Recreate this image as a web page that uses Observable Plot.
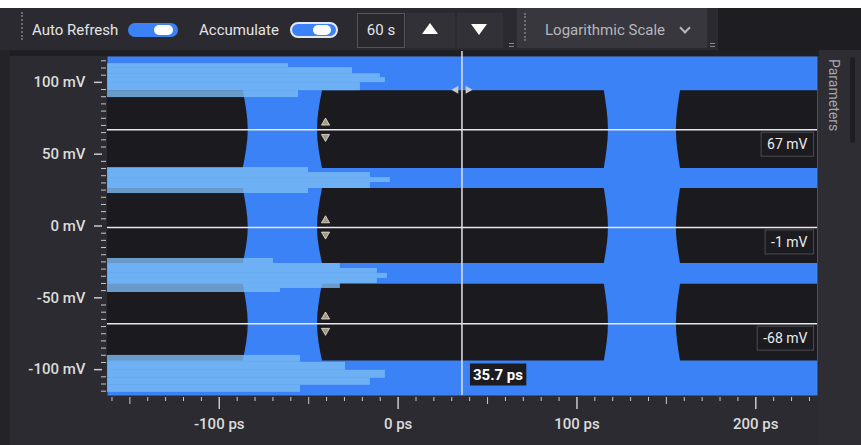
<!DOCTYPE html>
<html>
<head>
<meta charset="utf-8">
<script src="https://cdn.jsdelivr.net/npm/d3@7"></script>
<script src="https://cdn.jsdelivr.net/npm/@observablehq/plot@0.6"></script>
<style>
html, body { margin: 0; padding: 0; background: #2c2b31; }
#root { position: relative; width: 861px; height: 445px; overflow: hidden; background: #2c2b31; font-family: Roboto, "Noto Sans", sans-serif; }
.abs { position: absolute; }
.tb-text { position: absolute; color: #e4e4e8; font-size: 15px; line-height: 20px; white-space: nowrap; }
#chart { position: absolute; left: 0; top: 50px; }
</style>
</head>
<body>
<div id="root">
  <div class="abs" style="left:0;top:0;width:861px;height:8px;background:#ffffff"></div>
  <div class="abs" style="left:0;top:8px;width:861px;height:42px;background:#2b2a30"></div>
  <div class="abs" style="left:0;top:50px;width:861px;height:6px;background:#1f1e23"></div>
  <div class="abs" style="left:0;top:50px;width:10px;height:395px;background:#242328"></div>
  <div class="abs" style="left:21px;top:12px;height:28px;border-left:2px dotted #6a6970"></div>
  <div class="tb-text" style="left:32px;top:20px;">Auto Refresh</div>
  <div class="abs" style="left:128px;top:23px;width:50px;height:14px;border-radius:7px;background:#3b82f6"></div>
  <div class="abs" style="left:154px;top:25px;width:19px;height:10px;border-radius:5px;background:#ffffff"></div>
  <div class="tb-text" style="left:199px;top:20px;">Accumulate</div>
  <div class="abs" style="left:290px;top:22px;width:48px;height:16px;border-radius:8px;background:#3b82f6;border:2px solid #e6e8f0;box-sizing:border-box"></div>
  <div class="abs" style="left:313px;top:25px;width:18px;height:10px;border-radius:5px;background:#ffffff"></div>
  <div class="abs" style="left:357px;top:13px;width:48px;height:35px;box-sizing:border-box;border:1px solid #55545b;background:#29282d"></div>
  <div class="tb-text" style="left:357px;top:20px;width:48px;text-align:center;">60 s</div>
  <div class="abs" style="left:406px;top:13px;width:49px;height:35px;background:#323137"></div>
  <div class="abs" style="left:422px;top:23px;width:0;height:0;border-left:8px solid transparent;border-right:8px solid transparent;border-bottom:11px solid #ffffff"></div>
  <div class="abs" style="left:457px;top:13px;width:46px;height:35px;background:#323137"></div>
  <div class="abs" style="left:471px;top:24px;width:0;height:0;border-left:8px solid transparent;border-right:8px solid transparent;border-top:11px solid #ffffff"></div>
  <div class="abs" style="left:509px;top:43px;width:5px;height:1px;background:#8a8990"></div>
  <div class="abs" style="left:509px;top:46px;width:5px;height:1px;background:#8a8990"></div>
  <div class="abs" style="left:517px;top:8px;width:190px;height:40px;background:#38373d"></div>
  <div class="abs" style="left:524px;top:13px;height:28px;border-left:2px dotted #6e6d74"></div>
  <div class="tb-text" style="left:545px;top:20px;color:#b6b6be;">Logarithmic Scale</div>
  <div class="abs" style="left:681px;top:24px;width:6px;height:6px;border-right:2px solid #b6b6be;border-bottom:2px solid #b6b6be;transform:rotate(45deg)"></div>
  <div class="abs" style="left:710px;top:43px;width:5px;height:1px;background:#8a8990"></div>
  <div class="abs" style="left:710px;top:46px;width:5px;height:1px;background:#8a8990"></div>
  <div class="abs" style="left:718px;top:8px;width:143px;height:42px;background:#1e1d22"></div>
  <div id="chart"></div>
  <div class="abs" style="left:819px;top:50px;width:42px;height:395px;background:#2e2d33"></div>
  <div class="abs" style="left:824px;top:59px;writing-mode:vertical-rl;color:#a6a6ae;font-size:14px;line-height:20px;">Parameters</div>
  <div class="abs" style="left:850px;top:57px;width:5px;height:86px;border-radius:2px;background:#1f1e23"></div>
</div>
<script>
// ---- axes ----
const xDomain = [-162.5, 234.5];   // ps
const yDomain = [-118, 118];       // mV
const xMajor = [-100, 0, 100, 200];
const xMid = [-150, -50, 50, 150];
const xMinor = d3.range(-160, 231, 10).filter(v => v % 50 !== 0);
const yMajor = [-100, -50, 0, 50, 100];
const yMinor = d3.range(-115, 116, 5).filter(v => v % 50 !== 0);

// ---- eye openings (PAM4: three eyes per UI column) ----
const eyeColumns = ["left", "centre", "right"];
const openEdgeOuter  = [-162.5, -42.3, 157.9];  // ps, opening edge at eye top/bottom
const openEdgeMid    = [-162.5, -45.1, 155.6];  // ps, opening edge at eye centre
const closeEdgeOuter = [-86.6, 115.3, 234.5];   // ps, closing edge at eye top/bottom
const closeEdgeMid   = [-83.8, 117.6, 234.5];   // ps, closing edge at eye centre
const eyeTop    = [94.2, 26.1, -40.5];          // mV
const eyeCentre = [67, -1, -68];                // mV
const eyeBottom = [40.0, -26.1, -94.0];         // mV

// ---- vertical histogram at each of the four levels ----
const level1Edges = [113, 110.2, 106, 103.3, 99.8, 94.2, 89.4];
const level1Reach = [-61.3, -25.5, -9.9, -7.1, -21.1, -55.7];
const level2Edges = [40.7, 37.2, 33.7, 30.3, 26.1, 22.6];
const level2Reach = [-50.1, -15.5, -4.3, -15.5, -50.1];
const level3Edges = [-22.6, -26.1, -29.6, -33.0, -36.5, -40.0, -43.5, -46.3];
const level3Reach = [-69.7, -32.3, -11.6, -6.0, -11.6, -32.3, -65.8];
const level4Edges = [-90.1, -94.9, -100.5, -106.0, -110.9, -115.8];
const level4Reach = [-54.6, -29.4, -7.1, -15.5, -54.6];

// ---- measurement cursors ----
const thresholds = [67, -1, -68];
const thresholdLabels = ["67 mV", "-1 mV", "-68 mV"];
const cursorTime = 35.7;
const cursorLabel = "35.7 ps";
const edgeMarkerTime = -40.6;

// build tables
const eyeRows = [];
eyeColumns.forEach((c, ci) => {
  eyeTop.forEach((t, li) => {
    const id = c + li;
    eyeRows.push({eye: id, y: t, x1: openEdgeOuter[ci], x2: closeEdgeOuter[ci]});
    eyeRows.push({eye: id, y: eyeCentre[li], x1: openEdgeMid[ci], x2: closeEdgeMid[ci]});
    eyeRows.push({eye: id, y: eyeBottom[li], x1: openEdgeOuter[ci], x2: closeEdgeOuter[ci]});
  });
});
function bands(edges, reach) {
  return reach.map((r, i) => ({y1: edges[i], y2: edges[i + 1], x2: r}));
}
const histRows = [
  ...bands(level1Edges, level1Reach),
  ...bands(level2Edges, level2Reach),
  ...bands(level3Edges, level3Reach),
  ...bands(level4Edges, level4Reach)
];

const tickColor = "#c8c8cc";
const plot = Plot.plot({
  width: 820,
  height: 395,
  marginLeft: 107,
  marginRight: 3,
  marginTop: 6,
  marginBottom: 50,
  x: {domain: xDomain},
  y: {domain: yDomain},
  style: {background: "transparent", fontFamily: "Roboto, 'Noto Sans', sans-serif", color: "#dcdcdc"},
  marks: [
    Plot.frame({fill: "#3b82f6", stroke: "none"}),
    Plot.areaX(eyeRows, {y: "y", x1: "x1", x2: "x2", z: "eye", fill: "#1b1a1f", curve: "natural"}),
    Plot.rect(histRows, {x1: xDomain[0], x2: "x2", y1: "y1", y2: "y2", fill: "#7cbcf4", fillOpacity: 0.8}),
    Plot.ruleY(thresholds, {stroke: "#e8e8ea", strokeWidth: 1.5}),
    Plot.ruleX([cursorTime], {y1: 121.5, y2: yDomain[0], stroke: "#e2e2e4", strokeWidth: 1.5}),
    Plot.dot(thresholds, {x: edgeMarkerTime, y: d => d, symbol: "triangle", r: 3, dy: -7, fill: "#a89a7c", stroke: "#e6e6e6", strokeWidth: 0.8}),
    Plot.dot(thresholds, {x: edgeMarkerTime, y: d => d, symbol: "triangle", r: 3, dy: 7, rotate: 180, fill: "#a89a7c", stroke: "#e6e6e6", strokeWidth: 0.8}),
    Plot.dot([cursorTime], {x: d => d, y: eyeTop[0], symbol: "triangle", r: 3, dx: -6, dy: -1, rotate: -90, fill: "#c8c8d0", stroke: "none"}),
    Plot.dot([cursorTime], {x: d => d, y: eyeTop[0], symbol: "triangle", r: 3, dx: 6, dy: -1, rotate: 90, fill: "#c8c8d0", stroke: "none"}),
    Plot.text(thresholds, {x: xDomain[1], y: d => d, text: (d, i) => thresholdLabels[i], textAnchor: "end", dx: -10, dy: 15, fill: "#ececec", fontSize: 14}),
    Plot.text([cursorTime], {x: d => d, frameAnchor: "bottom", text: () => cursorLabel, textAnchor: "start", dx: 11, dy: -16, fill: "#ffffff", fontSize: 15, fontWeight: "bold"}),
    // y axis
    Plot.axisY(yMinor, {tickSize: 5, dx: -1, tickFormat: () => "", color: tickColor}),
    Plot.axisY(yMajor, {tickSize: 8, dx: -5, tickFormat: () => "", color: tickColor, strokeWidth: 1.5}),
    Plot.axisY(yMajor, {tickSize: 0, tickPadding: 22, tickFormat: d => `${d} mV`, color: "#dcdcdc", fontSize: 15, fontWeight: 500}),
    // x axis
    Plot.axisX(xMinor, {tickSize: 4, dy: 2, tickFormat: () => "", color: tickColor}),
    Plot.axisX(xMid, {tickSize: 7, dy: 2, tickFormat: () => "", color: tickColor}),
    Plot.axisX(xMajor, {tickSize: 12, dy: 2, tickFormat: () => "", color: tickColor, strokeWidth: 1.5}),
    Plot.axisX(xMajor, {tickSize: 0, tickPadding: 23, tickFormat: d => `${d} ps`, color: "#dcdcdc", fontSize: 15, fontWeight: 500})
  ]
});
document.getElementById("chart").append(plot);

// dark boxes behind the cursor read-outs
function boxText(match, padX, padY, stroke) {
  plot.querySelectorAll("text").forEach(t => {
    if (!match.includes(t.textContent)) return;
    const b = t.getBBox();
    const r = document.createElementNS("http://www.w3.org/2000/svg", "rect");
    r.setAttribute("x", b.x - padX);
    r.setAttribute("y", b.y - padY);
    r.setAttribute("width", b.width + 2 * padX);
    r.setAttribute("height", b.height + 2 * padY);
    r.setAttribute("fill", "#1c1b20");
    r.setAttribute("stroke", stroke);
    if (t.getAttribute("transform")) r.setAttribute("transform", t.getAttribute("transform"));
    t.parentNode.insertBefore(r, t);
  });
}
boxText(thresholdLabels, 6, 4, "#4d4c53");
boxText([cursorLabel], 3, 2, "none");
</script>
</body>
</html>
